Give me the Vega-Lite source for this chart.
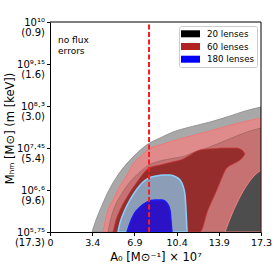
{
  "$schema": "https://vega.github.io/schema/vega-lite/v6.json",
  "width": 211,
  "height": 210,
  "autosize": {"type": "none"},
  "padding": {"left": 50, "top": 22, "right": 14, "bottom": 37},
  "config": {
    "font": "DejaVu Sans",
    "view": {"stroke": null},
    "axis": {
      "grid": false,
      "domainColor": "#000000",
      "domainWidth": 1,
      "tickColor": "#000000",
      "tickSize": 3.5,
      "tickWidth": 1,
      "labelColor": "#000000",
      "labelFontSize": 9.5,
      "labelFlush": false,
      "labelOverlap": false,
      "labelBound": false,
      "titleColor": "#000000",
      "titleFontWeight": "normal",
      "titleFontSize": 11,
      "zindex": 2
    },
    "legend": {
      "orient": "top-right",
      "offset": 4,
      "padding": 2.8,
      "strokeColor": "#cccccc",
      "fillColor": "#ffffff",
      "cornerRadius": 2,
      "labelFontSize": 8.7,
      "labelColor": "#000000",
      "symbolType": "M-1.9,-0.7H1.9V0.7H-1.9Z",
      "symbolSize": 100,
      "symbolStrokeWidth": 0,
      "symbolOffset": 3.7,
      "labelOffset": 11.5,
      "rowPadding": 2.7,
      "zindex": 3
    }
  },
  "encoding": {
    "x": {
      "field": "x",
      "type": "quantitative",
      "scale": {"domain": [0, 17.3], "nice": false, "zero": false},
      "axis": {
        "values": [0, 3.46, 6.92, 10.38, 13.84, 17.3],
        "labelExpr": "datum.value < 1 ? '0' : datum.value < 4 ? '3.4' : datum.value < 8 ? '6.9' : datum.value < 11 ? '10.4' : datum.value < 15 ? '13.9' : '17.3'",
        "labelPadding": 2,
        "title": "A₀ [M⊙⁻¹] × 10⁷",
        "titleFontSize": 11.5,
        "titlePadding": 4
      }
    },
    "y": {
      "field": "y",
      "type": "quantitative",
      "scale": {"domain": [5.75, 10], "nice": false, "zero": false},
      "axis": {
        "values": [5.75, 6.6, 7.45, 8.3, 9.15, 10],
        "labelExpr": "datum.value < 6 ? ['10⁵·⁷⁵','(17.3)'] : datum.value < 7 ? ['10⁶·⁶','(9.6)'] : datum.value < 8 ? ['10⁷·⁴⁵','(5.4)'] : datum.value < 9 ? ['10⁸·³','(3.0)'] : datum.value < 9.5 ? ['10⁹·¹⁵','(1.6)'] : ['10¹⁰','(0.9)']",
        "labelFontSize": 10,
        "labelLineHeight": 10.5,
        "labelBaseline": "middle",
        "labelPadding": 2,
        "title": "Mₕₘ [M⊙]  (m [keV])",
        "titleFontSize": 11.5,
        "titleX": -40,
        "titleY": 106,
        "titleBaseline": "middle",
        "titleAlign": "center",
        "titleAngle": -90
      }
    }
  },
  "layer": [
    {
      "data": {"values": [
        {"x": 3.444, "y": 5.75}, {"x": 3.772, "y": 5.993}, {"x": 4.100, "y": 6.195}, {"x": 4.755, "y": 6.560},
        {"x": 5.739, "y": 6.964}, {"x": 6.805, "y": 7.268}, {"x": 8.035, "y": 7.531}, {"x": 9.019, "y": 7.652},
        {"x": 10.085, "y": 7.774}, {"x": 11.479, "y": 7.875}, {"x": 13.118, "y": 7.976}, {"x": 14.758, "y": 8.098},
        {"x": 15.988, "y": 8.199}, {"x": 17.3, "y": 8.280}
      ]},
      "mark": {"type": "area", "interpolate": "monotone", "fill": "#a8a8a8", "stroke": "#8a8a8a", "strokeWidth": 0.8, "clip": true},
      "encoding": {"y2": {"datum": 5.75}}
    },
    {
      "data": {"values": [
        {"x": 4.345, "y": 5.75}, {"x": 4.509, "y": 5.952}, {"x": 4.755, "y": 6.195}, {"x": 5.165, "y": 6.398},
        {"x": 5.739, "y": 6.681}, {"x": 6.313, "y": 6.904}, {"x": 6.805, "y": 7.126}, {"x": 7.461, "y": 7.288},
        {"x": 8.117, "y": 7.430}, {"x": 9.019, "y": 7.511}, {"x": 10.905, "y": 7.652}, {"x": 13.118, "y": 7.794},
        {"x": 15.168, "y": 7.936}, {"x": 17.3, "y": 8.057}
      ]},
      "mark": {"type": "area", "interpolate": "monotone", "fill": "#e08b8b", "stroke": "#f07878", "strokeWidth": 1, "clip": true},
      "encoding": {"y2": {"datum": 5.75}}
    },
    {
      "data": {"values": [
        {"x": 4.755, "y": 5.75}, {"x": 5.001, "y": 6.033}, {"x": 5.329, "y": 6.276}, {"x": 5.821, "y": 6.499},
        {"x": 6.559, "y": 6.762}, {"x": 7.379, "y": 6.964}, {"x": 8.117, "y": 7.106}, {"x": 9.019, "y": 7.187},
        {"x": 10.249, "y": 7.248}, {"x": 11.069, "y": 7.288}, {"x": 11.643, "y": 7.349}, {"x": 12.872, "y": 7.450},
        {"x": 14.512, "y": 7.612}, {"x": 16.152, "y": 7.774}, {"x": 17.3, "y": 7.855}
      ]},
      "mark": {"type": "area", "interpolate": "monotone", "fill": "#c77272", "stroke": "#a06464", "strokeWidth": 0.8, "clip": true},
      "encoding": {"y2": {"datum": 5.75}}
    },
    {
      "data": {"values": [
        {"x": 5.165, "y": 5.75, "y2": 5.75}, {"x": 5.411, "y": 5.993, "y2": 5.75}, {"x": 5.739, "y": 6.195, "y2": 5.75},
        {"x": 6.313, "y": 6.458, "y2": 5.75}, {"x": 7.133, "y": 6.762, "y2": 5.75}, {"x": 8.117, "y": 7.045, "y2": 5.75},
        {"x": 9.019, "y": 7.106, "y2": 5.75}, {"x": 10.003, "y": 7.167, "y2": 5.75}, {"x": 10.905, "y": 7.227, "y2": 5.75},
        {"x": 11.479, "y": 7.308, "y2": 5.75}, {"x": 12.053, "y": 7.389, "y2": 5.75}, {"x": 12.299, "y": 7.410, "y2": 5.75},
        {"x": 12.954, "y": 7.430, "y2": 6.195}, {"x": 13.610, "y": 7.440, "y2": 6.560}, {"x": 14.020, "y": 7.450, "y2": 6.802},
        {"x": 14.430, "y": 7.450, "y2": 7.025}, {"x": 15.004, "y": 7.450, "y2": 7.126}, {"x": 15.332, "y": 7.450, "y2": 7.167},
        {"x": 15.578, "y": 7.430, "y2": 7.207}, {"x": 15.824, "y": 7.389, "y2": 7.268}, {"x": 15.988, "y": 7.329, "y2": 7.329}
      ]},
      "mark": {"type": "area", "interpolate": "monotone", "fill": "#952d2d", "stroke": "#c83a3a", "strokeWidth": 0.8, "clip": true},
      "encoding": {"y2": {"field": "y2"}}
    },
    {
      "data": {"values": [
        {"x": 5.575, "y": 5.75}, {"x": 5.739, "y": 5.932}, {"x": 6.067, "y": 6.155}, {"x": 6.559, "y": 6.398},
        {"x": 7.133, "y": 6.620}, {"x": 7.625, "y": 6.762}, {"x": 8.117, "y": 6.843}, {"x": 8.691, "y": 6.883},
        {"x": 9.265, "y": 6.904}, {"x": 9.839, "y": 6.904}, {"x": 10.331, "y": 6.863}, {"x": 10.659, "y": 6.802},
        {"x": 10.905, "y": 6.681}, {"x": 11.069, "y": 6.499}, {"x": 11.151, "y": 6.195}, {"x": 11.233, "y": 5.75}
      ]},
      "mark": {"type": "area", "interpolate": "monotone", "fill": "#8c9db8", "stroke": "#87cefa", "strokeWidth": 1.6, "clip": true},
      "encoding": {"y2": {"datum": 5.75}}
    },
    {
      "data": {"values": [
        {"x": 6.313, "y": 5.75}, {"x": 6.559, "y": 5.932}, {"x": 6.887, "y": 6.114}, {"x": 7.379, "y": 6.256},
        {"x": 7.953, "y": 6.357}, {"x": 8.609, "y": 6.398}, {"x": 9.183, "y": 6.398}, {"x": 9.593, "y": 6.337},
        {"x": 9.839, "y": 6.195}, {"x": 9.921, "y": 5.993}, {"x": 10.003, "y": 5.75}
      ]},
      "mark": {"type": "area", "interpolate": "monotone", "fill": "#2c12c6", "stroke": "#1a1aff", "strokeWidth": 1.3, "clip": true},
      "encoding": {"y2": {"datum": 5.75}}
    },
    {
      "data": {"values": [
        {"x": 14.348, "y": 5.75}, {"x": 14.922, "y": 6.114}, {"x": 15.578, "y": 6.458},
        {"x": 16.152, "y": 6.701}, {"x": 16.726, "y": 6.883}, {"x": 17.3, "y": 7.005}
      ]},
      "mark": {"type": "area", "interpolate": "monotone", "fill": "#4d4d4d", "stroke": "#f08080", "strokeWidth": 1, "clip": true},
      "encoding": {"y2": {"datum": 5.75}}
    },
    {
      "data": {"values": [{"x": 8.12, "y": 5.75, "y2": 10}]},
      "mark": {"type": "rule", "color": "#ff1a1a", "strokeWidth": 2, "strokeDash": [5, 2.5]},
      "encoding": {"y2": {"field": "y2"}}
    },
    {
      "data": {"values": [{"x": 17.3, "y": 5.75, "y2": 10}]},
      "mark": {"type": "rule", "color": "#000000", "strokeWidth": 1},
      "encoding": {"y2": {"field": "y2"}}
    },
    {
      "data": {"values": [{"x": 0, "x2": 17.3, "y": 10}]},
      "mark": {"type": "rule", "color": "#000000", "strokeWidth": 1},
      "encoding": {"x2": {"field": "x2"}}
    },
    {
      "data": {"values": [{"x": 0.66, "y": 9.72, "label": "no flux\nerrors"}]},
      "mark": {"type": "text", "align": "left", "baseline": "top", "lineBreak": "\n", "fontSize": 9, "lineHeight": 11.5, "color": "#000000"},
      "encoding": {"text": {"field": "label"}}
    },
    {
      "data": {"values": []},
      "mark": {"type": "rect"},
      "encoding": {
        "color": {
          "field": "lens",
          "type": "nominal",
          "scale": {"domain": ["20 lenses", "60 lenses", "180 lenses"], "range": ["#000000", "#b22222", "#0000ff"]},
          "legend": {"title": null}
        }
      }
    }
  ]
}
